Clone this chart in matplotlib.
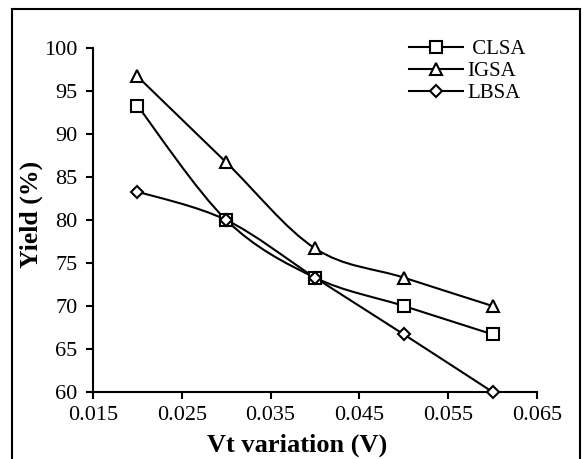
import matplotlib
matplotlib.use("Agg")
import matplotlib.pyplot as plt
from matplotlib.path import Path
from matplotlib.patches import PathPatch, Rectangle
from matplotlib.lines import Line2D

plt.rcParams['font.family'] = ['Liberation Serif', 'DejaVu Serif']

vt = [0.02, 0.03, 0.04, 0.05, 0.06]
clsa = [93.3, 80.0, 73.3, 70.0, 66.7]
igsa = [96.7, 86.7, 76.7, 73.3, 70.0]
lbsa = [83.3, 80.0, 73.3, 66.7, 60.0]
series = [(" CLSA", clsa, 's', 8), ("IGSA", igsa, '^', 8), ("LBSA", lbsa, 'D', 6)]


def smooth_path(x, y):
    # Excel-like smoothed line: Catmull-Rom as cubic Bezier segments
    n = len(x)
    verts = [(x[0], y[0])]
    codes = [Path.MOVETO]
    for i in range(n - 1):
        x0, y0 = (x[i - 1], y[i - 1]) if i > 0 else (x[i], y[i])
        x3, y3 = (x[i + 2], y[i + 2]) if i + 2 < n else (x[i + 1], y[i + 1])
        c1 = (x[i] + (x[i + 1] - x0) / 6, y[i] + (y[i + 1] - y0) / 6)
        c2 = (x[i + 1] - (x3 - x[i]) / 6, y[i + 1] - (y3 - y[i]) / 6)
        verts += [c1, c2, (x[i + 1], y[i + 1])]
        codes += [Path.CURVE4] * 3
    return Path(verts, codes)


fig = plt.figure(figsize=(5.83, 4.59), dpi=100)
ax = fig.add_axes([93 / 583, 1 - 392 / 459, 444 / 583, 344 / 459])

handles = []
for name, vals, mk, ms in series:
    ax.add_patch(PathPatch(smooth_path(vt, vals), fill=False, ec='black', lw=1.5, zorder=2))
    ax.plot(vt, vals, ls='none', marker=mk, ms=ms, mfc='white', mec='black', mew=1.5, zorder=3, clip_on=False)
    handles.append(Line2D([], [], color='black', lw=1.5, marker=mk, ms=ms, mfc='white', mec='black', mew=1.5, label=name))

ax.set_xlim(0.015, 0.065)
ax.set_ylim(60, 100)
ax.set_xticks([0.015, 0.025, 0.035, 0.045, 0.055, 0.065])
ax.set_xticklabels(['0.015', '0.025', '0.035', '0.045', '0.055', '0.065'])
ax.set_yticks(range(60, 101, 5))
for s in ['top', 'right']:
    ax.spines[s].set_visible(False)
for s in ['left', 'bottom']:
    ax.spines[s].set_linewidth(1.5)
ax.tick_params(direction='out', length=5, width=1.5, labelsize=16)
ax.tick_params(axis='x', pad=5)
ax.tick_params(axis='y', pad=6)
ax.set_xlabel('Vt variation (V)', fontsize=19, fontweight='bold')
ax.xaxis.set_label_coords(0.46, -0.12)
ax.set_ylabel('Yield (%)', fontsize=18.5, fontweight='bold')
ax.yaxis.set_label_coords(-0.113, 0.515)

ax.legend(handles=handles, loc='upper left', bbox_to_anchor=(394 / 583, 1 - 25 / 459),
          bbox_transform=fig.transFigure, frameon=False, fontsize=15,
          handlelength=2.6, handletextpad=0.2, labelspacing=0.12, borderpad=0.2)

fig.patches.append(Rectangle((12 / 583, -0.05), 568 / 583, 1 - 9 / 459 + 0.05, transform=fig.transFigure,
                             fill=False, ec='black', lw=1.5))

fig.savefig('out.png', dpi=100)
